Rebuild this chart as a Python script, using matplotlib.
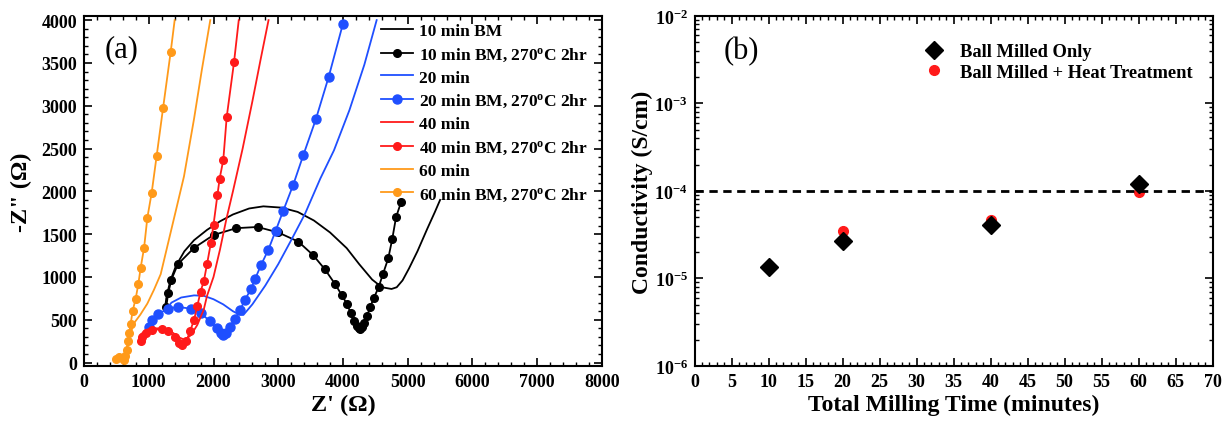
import numpy as np
import matplotlib
matplotlib.use("Agg")
import matplotlib.pyplot as plt
from matplotlib.ticker import MultipleLocator, LogLocator, NullFormatter

plt.rcParams['font.family'] = ['Liberation Serif', 'DejaVu Serif']
plt.rcParams['font.weight'] = 'bold'
plt.rcParams['mathtext.fontset'] = 'custom'
plt.rcParams['mathtext.rm'] = 'Liberation Serif'
plt.rcParams['mathtext.bf'] = 'Liberation Serif:bold'
plt.rcParams['mathtext.it'] = 'Liberation Serif:italic'

# ---- panel (a): Nyquist data (Z', -Z'') ----
bm10_x = [1250, 1270, 1330, 1420, 1550, 1700, 1900, 2100, 2300, 2550, 2770, 3050, 3300, 3550, 3800, 4057, 4250, 4450, 4600, 4750, 4830, 4920, 5020, 5150, 5300, 5420, 5500]
bm10_y = [620, 750, 950, 1130, 1300, 1430, 1550, 1650, 1730, 1800, 1825, 1810, 1760, 1660, 1520, 1337, 1150, 970, 880, 860, 880, 960, 1100, 1300, 1560, 1760, 1900]

ht10_x = [1270, 1300, 1350, 1450, 1700, 2000, 2350, 2680, 3000, 3310, 3540, 3720, 3877, 3980, 4057, 4120, 4170, 4210, 4240, 4270, 4300, 4330, 4370, 4420, 4480, 4550, 4620, 4700, 4760, 4820, 4900]
ht10_y = [650, 810, 970, 1150, 1340, 1490, 1570, 1584, 1520, 1413, 1254, 1090, 918, 790, 689, 580, 480, 430, 400, 390, 410, 460, 540, 650, 760, 880, 1040, 1220, 1440, 1700, 1880]

bm20_x = [1250, 1350, 1500, 1700, 1850, 2000, 2150, 2300, 2400, 2461, 2600, 2800, 3000, 3200, 3413, 3650, 3861, 4100, 4330, 4520]
bm20_y = [600, 700, 760, 785, 780, 740, 680, 600, 560, 556, 680, 900, 1150, 1430, 1737, 2150, 2480, 2950, 3480, 4000]

ht20_x = [1000, 1050, 1150, 1300, 1450, 1650, 1800, 1950, 2050, 2110, 2151, 2200, 2260, 2330, 2410, 2487, 2580, 2641, 2734, 2847, 2960, 3078, 3233, 3387, 3580, 3780, 4000]
ht20_y = [420, 500, 570, 630, 650, 630, 580, 480, 400, 350, 328, 345, 420, 510, 613, 735, 860, 975, 1139, 1318, 1540, 1775, 2080, 2423, 2840, 3340, 3960]

bm40_x = [880, 950, 1050, 1200, 1350, 1480, 1560, 1650, 1750, 1850, 1900, 2000, 2100, 2200, 2300, 2450, 2600, 2730, 2850]
bm40_y = [330, 380, 400, 400, 360, 290, 265, 320, 440, 620, 780, 1000, 1320, 1680, 2000, 2500, 3050, 3550, 4000]

ht40_x = [880, 900, 950, 1050, 1200, 1300, 1400, 1470, 1520, 1580, 1640, 1700, 1750, 1800, 1850, 1900, 1960, 2000, 2060, 2095, 2151, 2204, 2317, 2390]
ht40_y = [250, 300, 350, 380, 390, 370, 300, 230, 200, 250, 370, 500, 660, 830, 950, 1150, 1400, 1610, 1954, 2150, 2366, 2869, 3509, 4000]

bm60_x = [643, 700, 772, 870, 978, 1080, 1184, 1300, 1420, 1544, 1700, 1820, 1950]
bm60_y = [118, 300, 460, 560, 689, 850, 1032, 1400, 1780, 2175, 2850, 3420, 4000]

ht60_x = [500, 540, 580, 620, 640, 660, 680, 700, 720, 750, 798, 839, 875, 927, 978, 1045, 1122, 1220, 1339, 1400]
ht60_y = [40, 60, 50, 30, 80, 150, 250, 350, 450, 600, 747, 918, 1109, 1337, 1691, 1984, 2415, 2968, 3631, 4000]

# ---- panel (b): conductivity ----
t_bm = [10, 20, 40, 60]
sigma_bm = [1.35e-5, 2.65e-5, 4.1e-5, 1.2e-4]
t_ht = [20, 40, 60]
sigma_ht = [3.5e-5, 4.7e-5, 9.8e-5]
sigma_ref = 1e-4

BLACK, BLUE, RED, ORANGE = 'black', '#1f4fff', '#ff1a1a', '#ff9a1a'
deg = '270$^{\\mathbf{o}}$C 2hr'

fig = plt.figure(figsize=(12.23, 4.27), dpi=100)
ax1 = fig.add_axes([0.0687, 0.1405, 0.4235, 0.82])
ax2 = fig.add_axes([0.568, 0.1405, 0.4235, 0.82])

ax1.plot(bm10_x, bm10_y, color=BLACK, lw=1.3, label='10 min BM')
ax1.plot(ht10_x, ht10_y, color=BLACK, lw=1.3, marker='o', ms=5.5, label='10 min BM, ' + deg)
ax1.plot(bm20_x, bm20_y, color=BLUE, lw=1.3, label='20 min')
ax1.plot(ht20_x, ht20_y, color=BLUE, lw=1.3, marker='o', ms=6.5, label='20 min BM, ' + deg)
ax1.plot(bm40_x, bm40_y, color=RED, lw=1.3, label='40 min')
ax1.plot(ht40_x, ht40_y, color=RED, lw=1.3, marker='o', ms=5.5, markevery=slice(0, -1), label='40 min BM, ' + deg)
ax1.plot(bm60_x, bm60_y, color=ORANGE, lw=1.3, label='60 min')
ax1.plot(ht60_x, ht60_y, color=ORANGE, lw=1.3, marker='o', ms=5.5, markevery=slice(0, -1), label='60 min BM, ' + deg)

ax1.set_xlim(0, 8000)
ax1.set_ylim(-40, 4050)
ax1.xaxis.set_major_locator(MultipleLocator(1000))
ax1.xaxis.set_minor_locator(MultipleLocator(200))
ax1.yaxis.set_major_locator(MultipleLocator(500))
ax1.yaxis.set_minor_locator(MultipleLocator(100))
ax1.set_xlabel("Z' (Ω)", fontsize=17.5, fontweight='bold', labelpad=3)
ax1.set_ylabel('-Z" (Ω)', fontsize=17.5, fontweight='bold', labelpad=7)
ax1.text(0.04, 0.885, '(a)', transform=ax1.transAxes, fontsize=22, fontweight='normal')
ax1.legend(loc='upper left', frameon=False, fontsize=12.5, handlelength=1.8,
           labelspacing=0.38, borderaxespad=0, handletextpad=0.35,
           bbox_to_anchor=(0.5605, 1.0))

ax2.semilogy(t_bm, sigma_bm, linestyle='none', marker='D', color='black', ms=9, label='Ball Milled Only', zorder=3)
ax2.semilogy(t_ht, sigma_ht, linestyle='none', marker='o', color=RED, ms=7, label='Ball Milled + Heat Treatment', zorder=2)
ax2.axhline(sigma_ref, color='black', lw=2, ls=(0, (3, 2)))
ax2.set_xlim(0, 70)
ax2.set_ylim(1e-6, 1e-2)
ax2.xaxis.set_major_locator(MultipleLocator(5))
ax2.xaxis.set_minor_locator(MultipleLocator(1))
ax2.yaxis.set_major_locator(LogLocator(base=10, numticks=10))
ax2.yaxis.set_minor_locator(LogLocator(base=10, subs=np.arange(2, 10), numticks=10))
ax2.yaxis.set_minor_formatter(NullFormatter())
ax2.set_xlabel('Total Milling Time (minutes)', fontsize=17, fontweight='bold', labelpad=3)
ax2.set_ylabel('Conductivity (S/cm)', fontsize=17, fontweight='bold', labelpad=1)
ax2.text(0.055, 0.88, '(b)', transform=ax2.transAxes, fontsize=22, fontweight='normal')
ax2.legend(loc='upper left', frameon=False, fontsize=13.3, bbox_to_anchor=(0.413, 0.943),
           borderaxespad=0, handlelength=2.0, handletextpad=0.4, labelspacing=0.18)

for ax in (ax1, ax2):
    ax.tick_params(which='both', direction='in', top=True, right=True, labelsize=13)
    ax.tick_params(which='major', length=6, width=1.2, pad=5)
    ax.tick_params(which='minor', length=3, width=1)
    for s in ax.spines.values():
        s.set_linewidth(1.5)
    for lab in ax.get_xticklabels() + ax.get_yticklabels():
        lab.set_fontweight('bold')

fig.savefig('out.png', dpi=100)
